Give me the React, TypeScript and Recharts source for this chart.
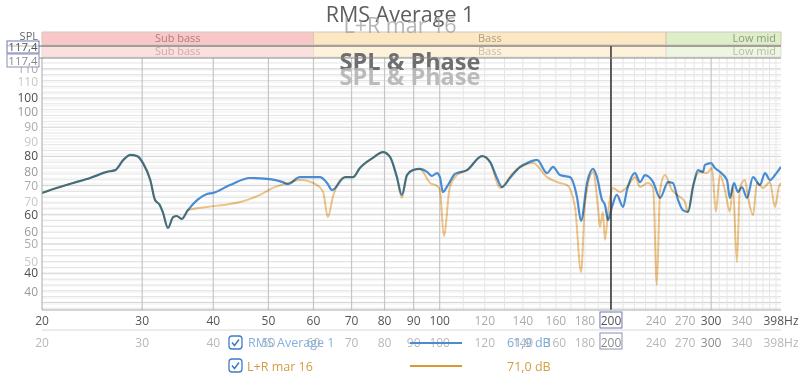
import React from 'react';
import { ComposedChart, Line, XAxis, YAxis, ReferenceLine, ReferenceArea } from 'recharts';

const FONT = "'Open Sans', 'Noto Sans', sans-serif";

// [frequency Hz, SPL dB]
const rmsAverage1: [number, number][] = [
  [20, 67.5], [21.5, 69.5], [22.7, 70.9], [24.3, 72.6], [26.0, 74.7], [26.9, 75.3], [27.8, 78.8], [28.6, 80.5],
  [29.4, 80.1], [30.1, 77.7], [31.0, 71.9], [31.6, 65.1], [32.2, 63.4], [32.6, 61.0], [33.3, 55.5], [34.0, 59.2],
  [34.5, 59.6], [35.2, 58.6], [36.1, 61.6], [37.5, 65.1], [39.0, 67.1], [40.0, 67.5], [42.8, 70.2], [46.4, 72.6],
  [49.7, 72.3], [53.0, 71.2], [54.1, 70.5], [56.8, 72.9], [61.6, 72.9], [63.4, 70.9], [64.7, 68.5], [68.2, 72.9],
  [70.4, 72.9], [72.4, 76.0], [76.3, 79.5], [79.5, 81.5], [81.8, 79.8], [84.1, 72.9], [85.8, 66.8], [87.6, 73.6],
  [89.7, 75.3], [92.3, 75.7], [95.0, 74.7], [96.9, 73.3], [98.9, 74.3], [100.1, 72.9], [101.3, 67.8], [103.4, 70.2],
  [106.4, 74.0], [111.7, 75.3], [118.7, 80.1], [122.6, 78.1], [126.1, 72.6], [128.7, 69.5], [132.9, 72.6], [138.4, 76.4],
  [142.4, 77.7], [148.3, 78.8], [154.4, 74.3], [158.2, 76.4], [162.7, 73.6], [169.4, 72.9], [174.3, 66.1], [177.2, 57.9],
  [181.5, 70.9], [186.0, 75.7], [189.0, 72.9], [192.9, 65.1], [195.2, 63.4], [197.6, 58.2], [200.8, 62.7], [204.8, 66.8],
  [210.0, 62.7], [213.4, 68.5], [220.4, 74.3], [225.0, 71.2], [229.6, 73.6], [237.2, 71.2], [244.0, 65.8], [252.0, 71.2],
  [257.0, 70.9], [262.4, 65.1], [267.6, 61.6], [273.2, 61.0], [278.8, 69.5], [284.4, 75.3], [290.2, 74.7], [292.6, 77.1],
  [299.8, 77.7], [304.6, 76.0], [310.8, 74.7], [319.8, 71.9], [323.6, 65.8], [329.0, 70.9], [334.4, 67.8], [339.8, 69.5],
  [346.8, 65.8], [355.4, 72.9], [365.6, 70.2], [373.0, 74.3], [380.6, 71.9], [388.4, 73.6], [398, 76.4],
];

const lrMar16: [number, number][] = [
  [20, 67.5], [21.5, 69.5], [22.7, 70.9], [24.3, 72.6], [26.0, 74.7], [26.9, 75.3], [27.8, 78.8], [28.6, 80.5],
  [29.4, 80.1], [30.1, 77.7], [31.0, 71.9], [31.6, 65.1], [32.2, 63.4], [32.6, 61.0], [33.3, 55.5], [34.0, 59.2],
  [34.5, 59.6], [35.2, 58.6], [36.1, 61.6], [36.8, 62.0], [39.0, 62.7], [42.8, 63.7], [44.6, 64.4], [48.3, 66.8],
  [50.9, 69.2], [54.1, 70.9], [56.8, 71.9], [60.9, 70.2], [62.4, 67.8], [63.6, 59.2], [64.9, 66.1], [66.8, 71.9],
  [68.2, 72.9], [70.4, 72.9], [72.4, 76.0], [76.3, 79.5], [79.5, 81.5], [81.8, 79.8], [84.1, 72.9], [85.8, 65.8],
  [87.6, 73.6], [89.7, 75.3], [92.3, 75.7], [96.2, 70.9], [98.9, 69.9], [100.1, 68.5], [101.7, 52.7], [104.2, 69.5],
  [107.2, 73.6], [111.7, 75.3], [118.7, 80.1], [122.6, 78.1], [127.7, 69.2], [134.5, 74.3], [145.9, 77.7], [154.4, 72.9],
  [162.7, 70.9], [167.4, 70.2], [172.9, 62.7], [177.2, 40.4], [180.1, 64.0], [186.0, 74.7], [189.8, 62.3], [191.3, 55.8],
  [193.6, 61.0], [195.2, 51.4], [197.6, 60.6], [201.6, 69.2], [207.4, 67.8], [213.4, 69.5], [220.4, 72.9], [225.0, 69.5],
  [232.2, 70.9], [237.2, 69.2], [240.8, 36.0], [244.0, 68.5], [248.8, 73.6], [256.0, 68.5], [264.4, 66.1], [269.8, 64.4],
  [273.2, 61.0], [278.8, 70.2], [286.8, 74.7], [295.0, 74.3], [301.0, 76.0], [305.8, 61.0], [310.8, 73.6], [317.2, 68.5],
  [323.6, 61.0], [327.6, 69.5], [333.0, 43.8], [337.0, 69.2], [344.0, 71.9], [348.2, 66.1], [355.4, 59.9], [361.2, 70.9],
  [370.0, 69.2], [380.6, 71.2], [388.4, 62.7], [394.6, 69.5], [398, 71.0],
];

const freqTicks = [20, 30, 40, 50, 60, 70, 80, 90, 100, 120, 140, 160, 180, 200, 240, 270, 300, 340, 398];
const strongFreqTicks = [20, 30, 40, 50, 60, 70, 80, 90, 100, 300, 398];
const majorGridFreqs = [30, 40, 50, 60, 70, 80, 90, 100, 200, 300];
const minorGridFreqs = [110, 120, 130, 140, 150, 160, 170, 180, 190, 210, 220, 230, 240, 250, 260, 270, 280, 290, 310, 320, 330, 340, 350, 360, 370, 380, 390];
const dbLabels = [110, 100, 90, 80, 70, 60, 50, 40];
const bandNames = ['Sub bass', 'Bass', 'Low mid'];
const bandEdges = [20, 60, 250, 398];
const cursorFreq = 200;
const cursorLevel = '117,4';
const seriesNames = ['RMS Average 1', 'L+R mar 16'];
const seriesReadouts = ['61,9 dB', '71,0 dB'];

const Y_MIN = 27.4;
const Y_MAX = 113.7;
// second (overlaid) SPL scale, expressed in the main scale's units
const altToMain = (v: number) => 100 - (14 + (100 - v) * 3) / 2.92;

const blueData = rmsAverage1.map(([f, db]) => ({ f, db }));
const orangeData = lrMar16.map(([f, db]) => ({ f, db }));

const yTickInfo: { v: number; label: string; color: string }[] = [
  ...dbLabels.map((d) => ({ v: d, label: String(d), color: d % 20 === 0 ? '#4d4d4d' : '#ababab' })),
  ...dbLabels.map((d) => ({ v: altToMain(d), label: String(d), color: d % 20 === 0 ? '#9a9a9a' : '#c8c8c8' })),
];
const yTicks = yTickInfo.map((t) => t.v);

const gridMain: number[] = [];
for (let d = 28; d <= 112; d += 2) gridMain.push(d);
const gridAlt: number[] = [];
for (let d = 36; d <= 114; d += 2) gridAlt.push(altToMain(d));

const bandFillTop = ['#f8c8c8', '#fbe8c2', '#dcefc9'];
const bandFillBottom = ['#fbe0e0', '#fdf2dc', '#ecf6e3'];
const bandText = ['#b07c7c', '#a89e86', '#8e9a84'];
const bandTextLight = ['#cfaaaa', '#c7bfae', '#b5bdaa'];

const YTick = (props: any) => {
  const { y, payload } = props;
  const info = yTickInfo.find((t) => Math.abs(t.v - payload.value) < 1e-6);
  if (!info) return null;
  return (
    <text x={38} y={y + 4} textAnchor="end" fontSize={12} fill={info.color} fontFamily={FONT}>
      {info.label}
    </text>
  );
};

const XTick = (props: any) => {
  const { x, payload } = props;
  const v = payload.value;
  const label = v === 398 ? '398Hz' : String(v);
  const strong = strongFreqTicks.includes(v);
  const isCursor = v === cursorFreq;
  return (
    <g>
      {isCursor && <rect x={x - 11} y={312} width={22} height={16} fill="#fff" stroke="#6b78b0" />}
      <text x={x} y={325} textAnchor="middle" fontSize={12} fill={strong || isCursor ? '#555' : '#ababab'} fontFamily={FONT}>
        {label}
      </text>
      {isCursor && <rect x={x - 11} y={333} width={22} height={16} fill="#fff" stroke="#8a90b0" />}
      <text x={x} y={347} textAnchor="middle" fontSize={12} fill={v === 300 || isCursor ? '#8a8a8a' : '#b8b8b8'} fontFamily={FONT}>
        {label}
      </text>
    </g>
  );
};

const Check = ({ x, y }: { x: number; y: number }) => (
  <g>
    <rect x={x} y={y} width={13} height={13} rx={3} fill="#fff" stroke="#3d7cc9" strokeWidth={1.3} />
    <path d={`M${x + 3} ${y + 6.5} L${x + 5.5} ${y + 9.5} L${x + 10} ${y + 3.5}`} fill="none" stroke="#3d7cc9" strokeWidth={1.5} />
  </g>
);

export default function App() {
  return (
    <div style={{ position: 'absolute', left: 0, top: 0, width: 800, height: 382, background: '#fff', fontFamily: FONT }}>
      <style>{`.orange-line { mix-blend-mode: multiply; }`}</style>
      <ComposedChart width={800} height={382} margin={{ top: 58, right: 19, bottom: 32, left: 0 }}>
        <XAxis
          dataKey="f"
          type="number"
          scale="log"
          domain={[20, 398]}
          ticks={freqTicks}
          interval={0}
          allowDataOverflow
          height={40}
          tickLine={false}
          axisLine={{ stroke: '#a8a8a8' }}
          tick={<XTick />}
        />
        <YAxis
          type="number"
          domain={[Y_MIN, Y_MAX]}
          ticks={yTicks}
          interval={0}
          allowDataOverflow
          width={42}
          tickLine={false}
          axisLine={{ stroke: '#a8a8a8' }}
          tick={<YTick />}
        />
        {gridAlt.map((d) => (
          <ReferenceLine key={'ga' + d} y={d} stroke="#efefef" strokeWidth={1} />
        ))}
        {gridMain.map((d) => (
          <ReferenceLine key={'gm' + d} y={d} stroke={d % 10 === 0 ? '#d2d2d2' : '#e4e4e4'} strokeWidth={1} />
        ))}
        {minorGridFreqs.map((f) => (
          <ReferenceLine key={'vm' + f} x={f} stroke="#e6e6e6" strokeWidth={1} />
        ))}
        {majorGridFreqs.map((f) => (
          <ReferenceLine key={'vM' + f} x={f} stroke="#c6c6c6" strokeWidth={1.2} />
        ))}
        {bandNames.map((name, i) => (
          <ReferenceArea
            key={'bt' + name}
            x1={bandEdges[i]}
            x2={bandEdges[i + 1]}
            y1={118.2}
            y2={122.6}
            ifOverflow="visible"
            fill={bandFillTop[i]}
            fillOpacity={1}
            stroke="#d6c6b6"
            label={{ value: name, position: i === 2 ? 'insideRight' : 'center', fill: bandText[i], fontSize: 11, fontFamily: FONT }}
          />
        ))}
        {bandNames.map((name, i) => (
          <ReferenceArea
            key={'bb' + name}
            x1={bandEdges[i]}
            x2={bandEdges[i + 1]}
            y1={114.0}
            y2={117.8}
            ifOverflow="visible"
            fill={bandFillBottom[i]}
            fillOpacity={1}
            stroke="#e4dcd2"
            label={{ value: name, position: i === 2 ? 'insideRight' : 'center', fill: bandTextLight[i], fontSize: 11, fontFamily: FONT }}
          />
        ))}
        <Line
          data={blueData}
          dataKey="db"
          type="monotone"
          stroke="#4a8cd2"
          strokeWidth={2.2}
          dot={false}
          isAnimationActive={false}
        />
        <Line
          data={orangeData}
          dataKey="db"
          type="monotone"
          stroke="#f0c68a"
          strokeWidth={2}
          dot={false}
          className="orange-line"
          isAnimationActive={false}
        />
        <ReferenceLine
          segment={[{ x: cursorFreq, y: Y_MIN }, { x: cursorFreq, y: 117.8 }]}
          ifOverflow="visible"
          stroke="#3c3c3c"
          strokeWidth={1.6}
        />
      </ComposedChart>
      <svg width={800} height={382} style={{ position: 'absolute', left: 0, top: 0, pointerEvents: 'none' }}>
        <text x={400} y={22} textAnchor="middle" fontSize={21.5} fill="#5e5e5e" fontFamily={FONT}>{seriesNames[0]}</text>
        <text x={400} y={33} textAnchor="middle" fontSize={21.5} fill="#a8a8a8" fillOpacity={0.85} fontFamily={FONT}>{seriesNames[1]}</text>
        <text x={410} y={70} textAnchor="middle" fontSize={23.5} fontWeight="bold" fill="#6e6e6e" fontFamily={FONT}>SPL &amp; Phase</text>
        <text x={410} y={85} textAnchor="middle" fontSize={23.5} fontWeight="bold" fill="#b4b4b4" fillOpacity={0.9} fontFamily={FONT}>SPL &amp; Phase</text>
        <line x1={7} x2={781} y1={46} y2={46} stroke="#5a5a5a" strokeWidth={1} />
        <line x1={7} x2={781} y1={58} y2={58} stroke="#8a8a8a" strokeWidth={1} />
        <line x1={42} x2={781} y1={330} y2={330} stroke="#d8d8d8" strokeWidth={1} />
        <text x={38} y={40} textAnchor="end" fontSize={11} fill="#666" fontFamily={FONT}>SPL</text>
        <rect x={7} y={41} width={32} height={12} fill="#fff" fillOpacity={0.6} stroke="#6b78b0" />
        <text x={23} y={51} textAnchor="middle" fontSize={11.5} fill="#555" fontFamily={FONT}>{cursorLevel}</text>
        <rect x={7} y={54} width={32} height={13} fill="#fff" stroke="#8a90b0" />
        <text x={23} y={65} textAnchor="middle" fontSize={11.5} fill="#8a8a8a" fontFamily={FONT}>{cursorLevel}</text>
        <Check x={229} y={336} />
        <text x={248} y={347} fontSize={12.5} fill="#86b0de" fontFamily={FONT}>{seriesNames[0]}</text>
        <line x1={410} x2={462} y1={343} y2={343} stroke="#4a8cd2" strokeWidth={2} />
        <text x={507} y={347} fontSize={12.5} fill="#7aa8d8" fontFamily={FONT}>{seriesReadouts[0]}</text>
        <Check x={229} y={359} />
        <text x={247} y={371} fontSize={12.5} fill="#d49c44" fontFamily={FONT}>{seriesNames[1]}</text>
        <line x1={410} x2={462} y1={366} y2={366} stroke="#d99a34" strokeWidth={2} />
        <text x={507} y={371} fontSize={12.5} fill="#d49c44" fontFamily={FONT}>{seriesReadouts[1]}</text>
      </svg>
    </div>
  );
}
